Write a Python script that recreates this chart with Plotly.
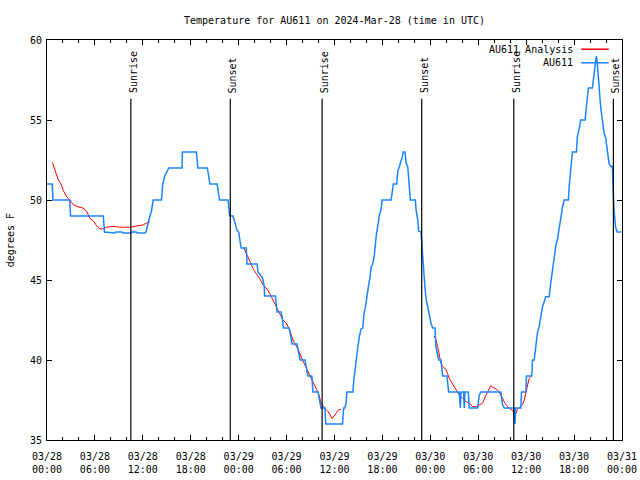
import plotly.graph_objects as go
from datetime import datetime, timedelta

START = datetime(2024, 3, 28)

# ---- data (hours since 2024-03-28 00:00 UTC, temperature in degrees F) ----
obs_hours = [
    0, 0.65, 0.75, 2.85, 2.95, 7.05, 7.2, 8.5, 8.6, 9.4, 9.5, 10.5, 10.6, 11.2, 11.3, 12.3,
    12.4, 12.67, 12.88, 13.08, 13.29, 14.33, 14.5, 14.75, 15.25, 16.9, 16.96, 18.7, 18.9,
    20.08, 20.4, 21.3, 21.6, 22.67, 22.875, 23.3, 23.5, 23.8, 24.0, 24.15, 24.3, 24.96,
    25.04, 26.29, 26.45, 26.6, 27.0, 27.2, 27.25, 28.6, 28.7, 28.8, 29.3, 29.45, 29.6,
    30.3, 30.4, 30.6, 30.7, 31.3, 31.5, 31.7, 32.3, 32.45, 32.67, 33.15, 33.3, 33.95,
    34.15, 34.3, 34.8, 34.9, 37.0, 37.15, 37.3, 37.45, 37.55, 38.3, 38.42, 38.58, 38.71,
    38.92, 39.125, 39.33, 39.54, 39.67, 39.875, 40.04, 40.25, 40.46, 40.58, 40.79, 41.0,
    41.21, 41.33, 41.5, 41.625, 41.83, 41.96, 43.08, 43.29, 43.375, 43.79, 43.92, 44.125,
    44.33, 44.54, 44.6, 44.83, 44.96, 45.17, 45.375, 45.5, 46.125, 46.21, 46.42, 46.54,
    46.83, 46.92, 47.04, 47.2, 47.33, 47.46, 47.6, 47.75, 47.875, 48.08, 48.29, 48.58,
    48.71, 48.92, 49.04, 49.33, 49.42, 49.54, 50.08, 50.25, 50.29, 51.625, 51.75, 51.85,
    52.17, 52.25, 52.33, 52.75, 52.875, 53.92, 54.125, 54.33, 56.83, 57.04, 57.25, 58.5,
    58.6, 58.7, 59.33, 59.42, 59.96, 60.04, 60.7, 60.8, 61.0, 61.2, 61.4, 61.625, 61.83,
    62.04, 62.46, 62.875, 63.08, 63.29, 63.42, 63.7, 63.9, 64.125, 64.33, 64.54, 64.75,
    65.29, 65.375, 65.58, 65.79, 66.29, 66.42, 66.625, 66.83, 67.375, 67.54, 67.79, 68.29,
    68.5, 68.7, 68.79, 68.92, 69.125, 69.33, 69.54, 69.75, 69.96, 70.17, 70.375, 70.58,
    70.79, 70.875, 71.0, 71.2, 71.4, 71.9,
]
obs_temps = [
    51, 51, 50, 50, 49, 49, 48, 47.94, 48, 48, 47.94, 47.94, 48, 48, 47.94, 47.94,
    48, 48.6, 49, 49.3, 50, 50, 51, 51.5, 52, 52, 53, 53, 52,
    52, 51, 51, 50, 50, 49, 49, 48.6, 48.1, 48.0, 47.4, 47.0, 47.0,
    46.0, 46.0, 45.45, 45.4, 45.1, 44.6, 44.0, 44.0, 43.4, 43.0, 43.0, 42.7, 42.0,
    42.0, 41.8, 41.3, 41.0, 41.0, 40.5, 40.0, 40.0, 39.5, 39.0, 39.0, 38.0, 38.0,
    37.3, 37.0, 37.0, 36.0, 36.0, 37.0, 37.0, 37.3, 38.0, 38.0, 38.75, 39.4, 40.2,
    40.8, 41.5, 41.94, 42.0, 42.8, 43.3, 44.0, 44.6, 45.2, 45.8, 46.0, 46.6,
    47.7, 48.2, 48.85, 49.06, 49.4, 50, 50, 50.8, 51.0, 51.0, 51.8, 52.1,
    52.4, 52.8, 53, 53, 52.3, 52.1, 50.8, 50.0, 50.0, 49.4, 48.75, 48.06,
    48.0, 47.3, 46.25, 45.2, 44.5, 43.85, 43.5, 42.9, 42.7, 42.3, 42.0, 42.0,
    40.8, 40.2, 40.0, 40.0, 39.5, 39.0, 39.0, 38.33, 38.0, 38.0, 37.0, 38.0,
    38.0, 37.0, 38.0, 38.0, 37.0, 37.0, 37.8, 38.0, 38.0, 37.2, 37.0, 37.0,
    36.0, 37.0, 37.0, 38.0, 38.0, 39.0, 39.0, 40.0, 40.0, 40.8, 41.67, 42.1, 42.7,
    43.3, 43.96, 43.96, 44.8, 45.6, 46.0, 47.1, 47.5, 48.3, 48.85, 49.5, 50.0,
    50.0, 50.8, 52.1, 53.0, 53.0, 54.0, 54.4, 55.0, 55.0, 56.0, 57.0, 57.0,
    57.9, 58.75, 59.0, 58.5, 56.9, 55.8, 55.0, 54.2, 53.85, 53.1, 52.3, 52.1,
    52.1, 51.0, 49.4, 48.3, 48.0, 48.0,
]

analysis_hours = [
    0.67, 1.0, 1.42, 1.71, 2.04, 2.46, 2.875, 3.29, 3.71, 4.5, 4.96, 5.375, 5.79, 6.21,
    6.625, 7.04, 7.46, 8.29, 9.125, 10.375, 11.625, 12.04, 12.46, 12.875,
    None,
    24.625, 24.96, 25.375, 25.79, 26.2, 26.625, 27.04, 27.46, 27.875, 28.29, 28.7, 29.125,
    29.54, 29.96, 30.375, 30.8, 31.2, 31.6, 32.04, 32.46, 32.875, 33.29, 33.7, 34.0,
    34.33, 34.75, 35.2, 35.7, 36.2, 36.54, 36.83,
    None,
    48.5, 48.71, 48.92, 49.125, 49.33, 49.54, 49.96, 50.375, 50.79, 51.2, 51.625, 52.04,
    52.46, 52.875, 53.29, 53.7, 54.125, 54.54, 54.96, 55.375, 55.58, 55.79, 56.2, 56.625,
    57.04, 57.46, 57.875, 58.29, 58.625, 58.9, 59.33, 59.54, 59.75, 59.96, 60.17, 60.375,
    60.58,
]
analysis_temps = [
    52.35, 51.9, 51.25, 51.04, 50.6, 50.2, 50.0, 49.7, 49.6, 49.5, 49.3, 48.85, 48.7, 48.4,
    48.2, 48.2, 48.3, 48.35, 48.3, 48.3, 48.4, 48.45, 48.55, 48.65,
    None,
    47.04, 46.67, 46.15, 45.73, 45.4, 45.1, 44.7, 44.5, 44.17, 43.75, 43.33, 43.0,
    42.5, 42.3, 41.9, 41.25, 40.9, 40.5, 39.95, 39.5, 39.1, 38.6, 38.2, 37.9,
    37.3, 37.0, 36.77, 36.35, 36.67, 36.9, 36.9,
    None,
    41.5, 41.25, 40.83, 40.2, 39.8, 39.6, 39.4, 38.85, 38.5, 38.1, 37.8, 37.6,
    37.4, 37.3, 37.1, 37.08, 37.2, 37.3, 37.8, 38.2, 38.4, 38.3, 38.2, 38.0,
    37.6, 37.2, 37.0, 36.85, 36.56, 36.9, 37.1, 37.2, 37.5, 37.9, 38.3, 38.85,
    38.96,
]

sun_hours = [10.5, 22.95, 34.45, 46.92, 58.45, 70.92]
sun_labels = ["Sunrise", "Sunset", "Sunrise", "Sunset", "Sunrise", "Sunset"]

x_tick_hours = [0, 6, 12, 18, 24, 30, 36, 42, 48, 54, 60, 66, 72]
y_ticks = [35, 40, 45, 50, 55, 60]

series_names = ["AU611 Analysis", "AU611"]
series_colors = ["#ff0000", "#1a84ff"]

TITLE = "Temperature for AU611 on 2024-Mar-28 (time in UTC)"
Y_TITLE = "degrees F"
FONT = "DejaVu Sans Mono"


def to_time(h):
    return None if h is None else START + timedelta(hours=h)


fig = go.Figure()
fig.add_trace(go.Scatter(
    x=[to_time(h) for h in analysis_hours], y=analysis_temps,
    mode="lines", name=series_names[0], connectgaps=False,
    line=dict(color=series_colors[0], width=1), showlegend=False,
))
fig.add_trace(go.Scatter(
    x=[to_time(h) for h in obs_hours], y=obs_temps,
    mode="lines", name=series_names[1],
    line=dict(color=series_colors[1], width=1.5), showlegend=False,
))

# sunrise / sunset markers
for h, lab in zip(sun_hours, sun_labels):
    fig.add_shape(type="line", xref="x", yref="paper",
                  x0=to_time(h), x1=to_time(h), y0=0, y1=0.853,
                  line=dict(color="black", width=1.2))
    fig.add_annotation(x=to_time(h), xref="x", y=0.862, yref="paper",
                       text=lab, textangle=-90, showarrow=False,
                       xanchor="center", yanchor="bottom", xshift=2,
                       font=dict(family=FONT, size=10, color="black"))

# manual gnuplot-like legend (text right, sample line at right)
legend_rows = [0.977, 0.943]
for name, col, yy in zip(series_names, series_colors, legend_rows):
    fig.add_annotation(x=0.918, xref="paper", y=yy, yref="paper", text=name,
                       showarrow=False, xanchor="right", yanchor="middle",
                       font=dict(family=FONT, size=10, color="black"))
    fig.add_shape(type="line", xref="paper", yref="paper",
                  x0=0.929, x1=0.977, y0=yy, y1=yy,
                  line=dict(color=col, width=1.5))

fig.add_annotation(x=-0.064, xref="paper", y=0.5, yref="paper", text=Y_TITLE,
                   textangle=-90, showarrow=False, xanchor="center", yanchor="middle",
                   font=dict(family=FONT, size=10, color="black"))

xt = [to_time(h) for h in x_tick_hours]
fig.update_xaxes(
    range=[xt[0], xt[-1]], tickmode="array", tickvals=xt,
    ticktext=[d.strftime("%m/%d<br>%H:%M") for d in xt],
    ticks="inside", ticklen=5, tickcolor="black", showline=True, linecolor="black",
    linewidth=1, mirror="allticks", showgrid=False, zeroline=False,
    automargin=False, ticklabelstandoff=7,
    minor=dict(tickmode="linear", tick0=xt[0], dtick=2 * 3600 * 1000,
               ticks="inside", ticklen=3, tickcolor="black"),
    tickfont=dict(family=FONT, size=10, color="black"),
)
fig.update_yaxes(
    range=[35, 60], tickmode="array", tickvals=y_ticks,
    ticks="inside", ticklen=5, tickcolor="black", showline=True, linecolor="black",
    linewidth=1, mirror="allticks", showgrid=False, zeroline=False,
    automargin=False, ticklabelstandoff=2,
    tickfont=dict(family=FONT, size=10, color="black"),
)
fig.update_layout(
    width=640, height=480, autosize=False,
    margin=dict(l=47, r=18, t=40, b=40),
    paper_bgcolor="white", plot_bgcolor="white",
    title=dict(text=TITLE, x=0.5, xref="paper", xanchor="center",
               y=0.958, yref="container", yanchor="middle",
               font=dict(family=FONT, size=10, color="black")),
    showlegend=False,
)
fig.write_html("out.html", config={"displayModeBar": False},
               post_script="document.body.style.margin='0';")
